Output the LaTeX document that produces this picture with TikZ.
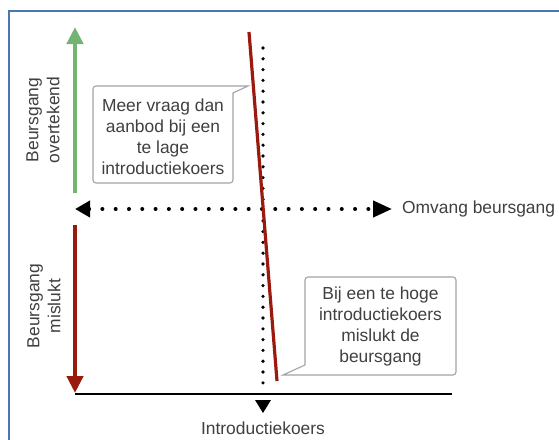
\documentclass[tikz,border=0pt]{standalone}
\usepackage{fontspec}
\setmainfont{Liberation Sans}
\usetikzlibrary{arrows.meta}
\definecolor{framec}{HTML}{4A76B4}
\definecolor{greenc}{HTML}{72B472}
\definecolor{redc}{HTML}{9A1B0E}
\definecolor{txtc}{HTML}{404040}
\definecolor{callc}{HTML}{A4A4A4}
\tikzset{
  lbl/.style={text=txtc, font=\fontsize{17.4}{21}\selectfont, inner sep=0pt, align=center},
  callout/.style={draw=callc, line width=1.1pt, fill=white},
  dotsh/.style={line width=4pt, line cap=round, dash pattern=on 0pt off 13.3pt},
  dotsv/.style={line width=3.6pt, line cap=round, dash pattern=on 0pt off 10.8pt},
}
\begin{document}
\begin{tikzpicture}[x=1pt,y=-1pt]
\useasboundingbox (0,0) rectangle (559,439);
\clip (0,0) rectangle (559,439);
\fill[white] (0,0) rectangle (559,439);
\draw[framec, line width=1.4pt] (9,11) rectangle (620,500);

% coordinates
\coordinate (gs) at (75,193);
\coordinate (ge) at (75,27);
\coordinate (rs) at (75,225);
\coordinate (re) at (75,393);
\coordinate (hl) at (75,209);
\coordinate (hr) at (392,209);
\coordinate (vt) at (263,48);
\coordinate (vd) at (263,392);
\coordinate (vb) at (263,413);
\coordinate (al) at (75,394);
\coordinate (ar) at (452,394);
\coordinate (lt) at (249,32);
\coordinate (lb) at (277,381);

% vertical arrows
\draw[greenc, line width=4.6pt, -{Triangle[length=17pt,width=16pt]}] (gs) -- (ge);
\draw[redc, line width=4.2pt, -{Triangle[length=17pt,width=16pt]}] (rs) -- (re);

% axis line
\draw[black, line width=1.5pt] (al) -- (ar);

% dotted axes
\draw[dotsh, {Triangle[length=15pt,width=16pt]}-{Triangle[length=19pt,width=16pt]}] (hl) -- (hr);
\draw[dotsv] (vt) -- (vd);
\fill[black] (255,400) -- (271,400) -- (vb) -- cycle;

% red line
\draw[redc, line width=3.2pt] (lt) -- (lb);

% callout 1
\draw[callout, rounded corners=3pt] (93,86) -- (163,86) [sharp corners]-- (248,86) -- (233,93) [rounded corners=3pt] -- (233,183) -- (93,183) -- cycle;
\node[lbl] (c1) at (163,137) {Meer vraag dan\\aanbod bij een\\te lage\\introductiekoers};

% callout 2
\draw[callout, rounded corners=3pt] (305,277) -- (456,277) -- (456,375) -- (380,375) [sharp corners] -- (283,375) -- (305,365) [rounded corners=3pt] -- cycle;
\node[lbl] (c2) at (380.5,326) {Bij een te hoge\\introductiekoers\\mislukt de\\beursgang};

% labels
\node[lbl, rotate=90] (l1) at (43,120) {Beursgang\\overtekend};
\node[lbl, rotate=90] (l2) at (44,306) {Beursgang\\mislukt};
\node[lbl, anchor=west] (l3) at (402,209) {Omvang beursgang};
\node[lbl] (l4) at (263,428) {Introductiekoers};
\end{tikzpicture}
\end{document}
